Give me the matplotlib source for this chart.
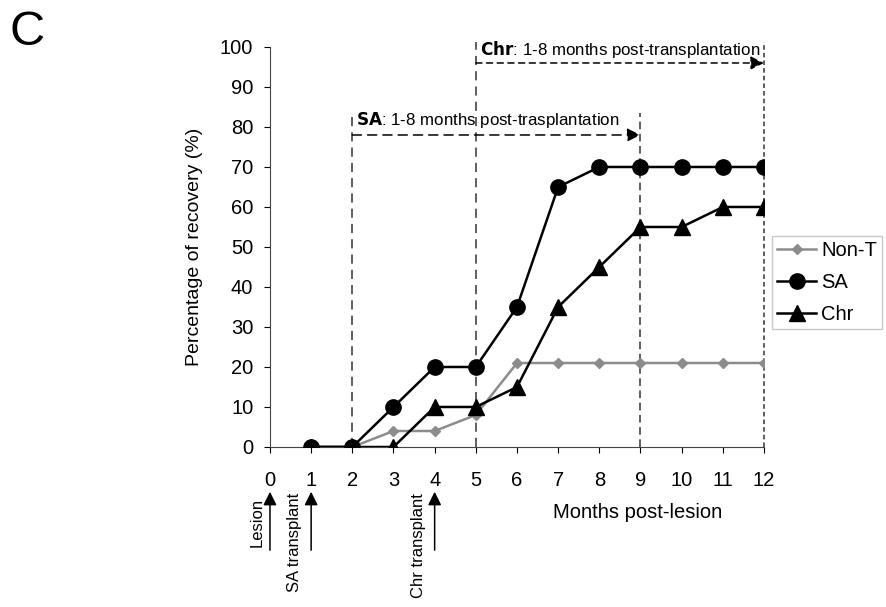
import numpy as np
import matplotlib.pyplot as plt

plt.rcParams['font.family'] = ['Liberation Sans', 'DejaVu Sans']

months = [0, 1, 2, 3, 4, 5, 6, 7, 8, 9, 10, 11, 12]
nont_x = [1, 2, 3, 4, 5, 6, 7, 8, 9, 10, 11, 12]
nont_y = [0, 0, 4, 4, 8, 21, 21, 21, 21, 21, 21, 21]
sa_x = [1, 2, 3, 4, 5, 6, 7, 8, 9, 10, 11, 12]
sa_y = [0, 0, 10, 20, 20, 35, 65, 70, 70, 70, 70, 70]
chr_x = [1, 2, 3, 4, 5, 6, 7, 8, 9, 10, 11, 12]
chr_y = [0, 0, 0, 10, 10, 15, 35, 45, 55, 55, 60, 60]

events = [(0, 'Lesion'), (1, 'SA transplant'), (4, 'Chr transplant')]

fig = plt.figure(figsize=(8.86, 6.07), dpi=100)
ax = fig.add_axes([0.3047, 0.2636, 0.5576, 0.659])

ax.plot(nont_x, nont_y, color='#8c8c8c', lw=1.8, marker='D', ms=5.5, label='Non-T', zorder=3)
ax.plot(chr_x, chr_y, color='black', lw=1.8, marker='^', ms=11, label='Chr', zorder=4)
ax.plot(sa_x, sa_y, color='black', lw=1.8, marker='o', ms=11, label='SA', zorder=5)

# period lines
ax.plot([2, 2], [0, 83.5], color='#333333', ls=(0, (6, 4)), lw=1.1, zorder=1)
ax.plot([9, 9], [0, 83.5], color='#333333', ls=(0, (5, 3)), lw=1.1, zorder=1)
ax.plot([5, 5], [0, 101.3], color='#333333', ls=(0, (6, 4)), lw=1.1, zorder=1, clip_on=False)
ax.plot([12, 12], [0, 101.3], color='#333333', ls=(0, (3, 2)), lw=1.1, zorder=1, clip_on=False)

ax.annotate('', xy=(9, 78), xytext=(2, 78),
            arrowprops=dict(arrowstyle='-|>', ls=(0, (6, 4)), color='black', lw=1.1,
                            mutation_scale=20, shrinkA=0, shrinkB=0))
ax.annotate('', xy=(12, 96), xytext=(5, 96), annotation_clip=False,
            arrowprops=dict(arrowstyle='-|>', ls=(0, (4, 3)), color='black', lw=1.1,
                            mutation_scale=20, shrinkA=0, shrinkB=0))
ax.text(2.1, 81.7, r'$\bf{SA}$: 1-8 months post-trasplantation', fontsize=12.2, va='center')
ax.text(5.1, 99.3, r'$\bf{Chr}$: 1-8 months post-transplantation', fontsize=12.2, va='center')

ax.set_xlim(0, 12)
ax.set_ylim(0, 100)
ax.set_xticks(months)
ax.set_yticks(np.arange(0, 101, 10))
ax.tick_params(axis='x', direction='out', length=4, pad=13, labelsize=14.5)
ax.tick_params(axis='y', direction='out', length=4, pad=8, labelsize=14.5)
for s in ['top', 'right']:
    ax.spines[s].set_visible(False)
ax.spines['left'].set_color('#444444')
ax.spines['bottom'].set_color('#444444')

ax.set_ylabel('Percentage of recovery (%)', fontsize=14, va='center')
ax.yaxis.set_label_coords(-0.152, 0.5)
ax.text(8.94, -16.3, 'Months post-lesion', fontsize=14.5, ha='center', va='center')

for x, lab in events:
    ax.annotate('', xy=(x, -11.2), xytext=(x, -25.8), annotation_clip=False,
                arrowprops=dict(arrowstyle='-|>', color='black', lw=1.1,
                                mutation_scale=20, shrinkA=0, shrinkB=0))
    if lab == 'Lesion':
        ax.text(x - 0.32, -18.9, lab, rotation=90, fontsize=12, ha='center', va='center', clip_on=False)
    else:
        ax.text(x - 0.4, -11.5, lab, rotation=90, fontsize=12, ha='center', va='top', clip_on=False)

handles, labels = ax.get_legend_handles_labels()
order = [0, 2, 1]
leg = ax.legend([handles[i] for i in order], [labels[i] for i in order],
                loc='center left', bbox_to_anchor=(1.016, 0.411), fontsize=14.5,
                frameon=True, fancybox=False, edgecolor='#bbbbbb',
                handlelength=1.95, handletextpad=0.25, borderpad=0.25,
                labelspacing=0.65, borderaxespad=0)

fig.text(0.0305, 0.947, 'C', fontsize=35, ha='center', va='center')

fig.savefig('out.png', dpi=100)
